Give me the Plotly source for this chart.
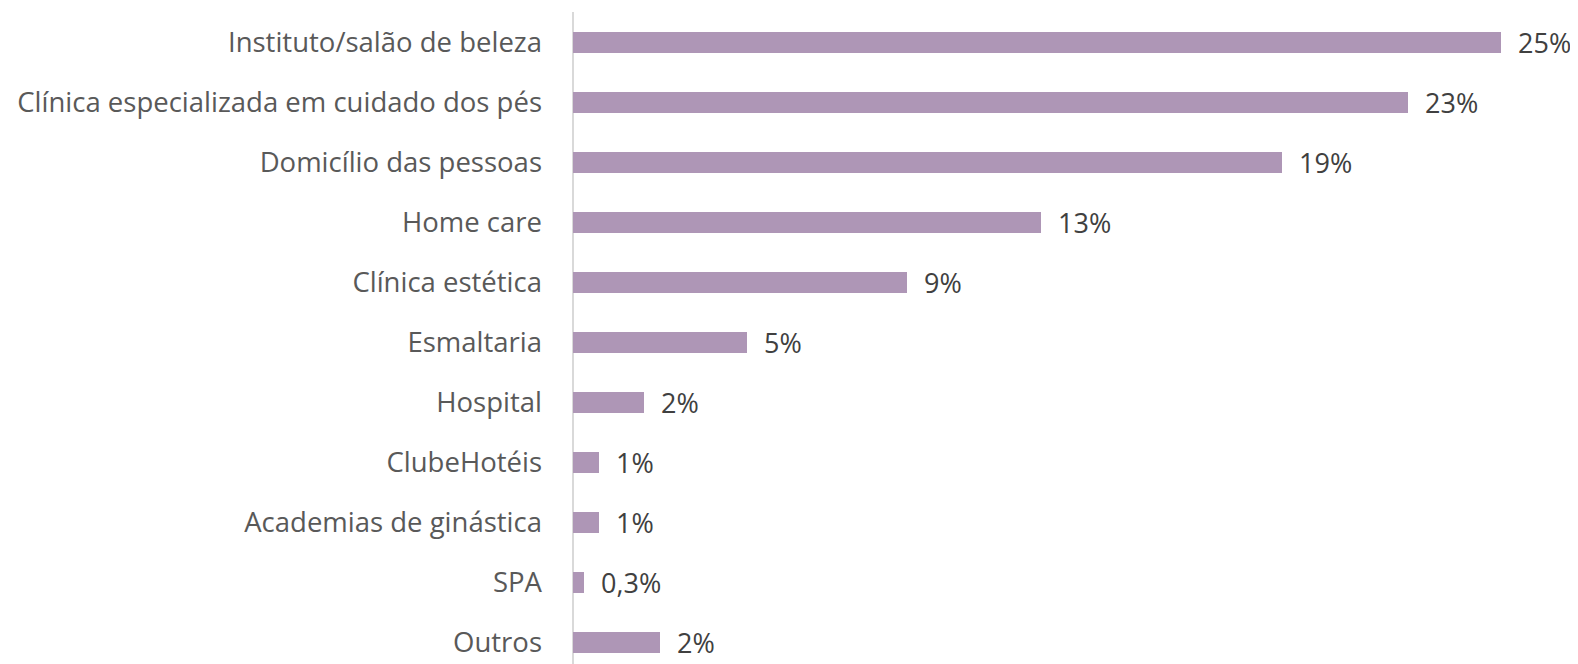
import plotly.graph_objects as go

categories = [
    "Instituto/salão de beleza",
    "Clínica especializada em cuidado dos pés",
    "Domicílio das pessoas",
    "Home care",
    "Clínica estética",
    "Esmaltaria",
    "Hospital",
    "ClubeHotéis",
    "Academias de ginástica",
    "SPA",
    "Outros",
]
values = [25.0, 22.5, 19.1, 12.6, 9.0, 4.7, 1.9, 0.7, 0.7, 0.3, 2.35]
value_labels = ["25%", "23%", "19%", "13%", "9%", "5%", "2%", "1%", "1%", "0,3%", "2%"]

# page body has an 8px margin, so the figure is sized/offset to compensate
W, H = 1570, 656
left = 565
right = 42
top = 4
pitch = 60.0
plot_h = H - top
y_top = -0.5
y_bottom = y_top + plot_h / pitch

FONT = "Open Sans"
FS = 27.5

fig = go.Figure(
    go.Bar(
        x=values,
        y=categories,
        orientation="h",
        marker=dict(color="#AE96B6", line=dict(width=0)),
        width=0.35,
        text=value_labels,
        texttemplate="\u00a0\u00a0%{text}",
        textposition="outside",
        constraintext="none",
        textfont=dict(family=FONT, size=27, color="#404040"),
        cliponaxis=False,
    )
)

fig.update_layout(
    width=W,
    height=H,
    margin=dict(l=left, r=right, t=top, b=0, pad=0, autoexpand=False),
    paper_bgcolor="white",
    plot_bgcolor="white",
    showlegend=False,
    bargap=0,
    font=dict(family=FONT, size=FS, color="#595959"),
)
fig.update_yaxes(
    type="category",
    range=[y_bottom, y_top],
    automargin=False,
    showgrid=False,
    zeroline=False,
    showline=False,
    ticks="",
    ticklabelstandoff=30,
    tickfont=dict(family=FONT, size=FS, color="#595959"),
)
plot_w = W - left - right
xmax = 25.0 * plot_w / (1502 - 574)
fig.update_xaxes(
    range=[0, xmax],
    automargin=False,
    showgrid=False,
    zeroline=True,
    zerolinecolor="#D9D9D9",
    zerolinewidth=2,
    showline=False,
    showticklabels=False,
    ticks="",
)
fig.write_html("out.html")
